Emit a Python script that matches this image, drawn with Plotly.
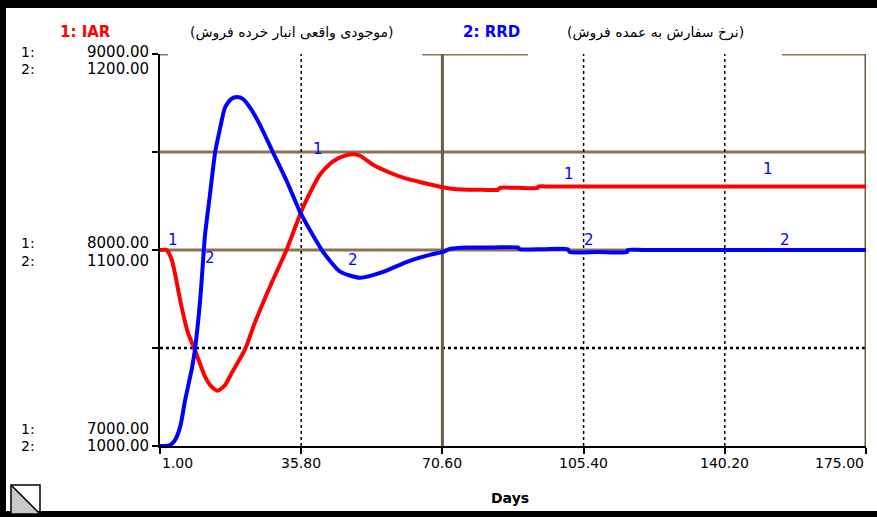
import plotly.graph_objects as go

# 1: IAR (موجودی واقعی انبار خرده فروش)
days_iar = [1, 2.6, 3.9, 6.3, 7.9, 9.6, 12.1, 13.6, 15.2, 17.0, 18.7, 21.9, 24.4, 28.5, 32.1,
            36.2, 40.4, 43.5, 46.6, 48.5, 50.3, 53.5, 57.7, 61.5, 65.8, 70.7, 74.0, 76.7,
            80.5, 84.3, 84.8, 89.0, 94.1, 94.2, 97.0, 110, 130, 150, 175]
iar = [8000, 8000, 7950, 7711, 7577, 7490, 7354, 7305, 7282, 7310, 7373, 7490, 7630, 7832, 7996,
       8215, 8384, 8450, 8481, 8488, 8481, 8435, 8394, 8365, 8343, 8320, 8310, 8307,
       8307, 8307, 8317, 8317, 8317, 8324, 8324, 8324, 8324, 8324, 8324]

# 2: RRD (نرخ سفارش به عمده فروش)
days_rrd = [1, 2.2, 3.5, 4.7, 6.0, 7.2, 8.9, 9.6, 10.9, 12.1, 13.3, 14.6, 15.8, 17.0, 18.5,
            20.0, 21.5, 23.2, 25.6, 28.8, 32.3, 35.5, 39.7, 41.2, 45.4, 50.3, 56.0, 61.9,
            67.5, 70.7, 72.5, 76.7, 83.0, 89.2, 89.7, 95.5, 101.5, 102.0, 109.0, 116.1, 116.3,
            120, 135, 155, 175]
rrd = [1000, 1000, 1000.5, 1003, 1010, 1023.5, 1040, 1049, 1074.5, 1107.7, 1128, 1150, 1162,
       1172.6, 1177, 1178, 1177, 1172.6, 1164, 1150, 1134.8, 1119.5, 1104, 1099, 1089, 1085.8,
       1088.8, 1094, 1097.5, 1099, 1100.6, 1101.3, 1101.3, 1101.3, 1100.4, 1100.4, 1100.4,
       1099, 1099, 1099, 1100, 1100, 1100, 1100, 1100]

x_ticks = [1, 35.8, 70.6, 105.4, 140.2, 175]
x_ticktext = ['1.00', '35.80', '70.60', '105.40', '140.20', '175.00']
iar_ticks = ['9000.00', '8000.00', '7000.00']
rrd_ticks = ['1200.00', '1100.00', '1000.00']

W, H = 877, 517
L, R, T, B = 160, 11, 54, 71
PW, PH = W - L - R, H - T - B


def px(x):
    return (x - L) / PW


def py(y):
    return (H - B - y) / PH


FONT = 'DejaVu Sans'
BROWN = '#8b7355'
DBROWN = '#6e5a45'

fig = go.Figure()
fig.add_trace(go.Scatter(x=days_iar, y=iar, mode='lines',
                         line=dict(color='#ff0000', width=4, shape='spline', smoothing=0.6),
                         yaxis='y', showlegend=False, hoverinfo='skip'))
fig.add_trace(go.Scatter(x=days_rrd, y=rrd, mode='lines',
                         line=dict(color='#0000ff', width=4, shape='spline', smoothing=0.6),
                         yaxis='y2', showlegend=False, hoverinfo='skip'))

shapes = []
# grid
for v in [8500, 8000]:
    shapes.append(dict(type='line', xref='x', yref='y', x0=1, x1=175, y0=v, y1=v,
                       line=dict(color=BROWN, width=3), layer='below'))
shapes.append(dict(type='line', xref='x', yref='y', x0=1, x1=175, y0=7500, y1=7500,
                   line=dict(color='black', width=2.5, dash='dot'), layer='below'))
for a, b in [(1, 2.97), (65.6, 91.7), (154.3, 175)]:
    shapes.append(dict(type='line', xref='x', yref='y', x0=a, x1=b, y0=9000, y1=9000,
                       line=dict(color=BROWN, width=3), layer='below'))
for v in [35.8, 105.4, 140.2]:
    shapes.append(dict(type='line', xref='x', yref='y', x0=v, x1=v, y0=7000, y1=9000,
                       line=dict(color='black', width=1.5, dash='dot'), layer='below'))
for v in [70.6, 175]:
    shapes.append(dict(type='line', xref='x', yref='y', x0=v, x1=v, y0=7000, y1=9000,
                       line=dict(color=DBROWN, width=3), layer='below'))

# outer frame (left, top, bottom)
for x0, y0, x1, y1 in [(0, 0, 6, H), (0, 0, W, 8), (0, 511, W, H)]:
    shapes.append(dict(type='rect', xref='paper', yref='paper', x0=px(x0), x1=px(x1),
                       y0=py(y1), y1=py(y0), fillcolor='black', line=dict(width=0)))

# corner icon
shapes.append(dict(type='path', xref='paper', yref='paper',
                   path=f'M {px(11)} {py(485)} L {px(11)} {py(514)} L {px(40)} {py(514)} Z',
                   fillcolor='#c8c8c8', line=dict(width=0)))
shapes.append(dict(type='rect', xref='paper', yref='paper', x0=px(11), x1=px(40),
                   y0=py(514), y1=py(485), line=dict(color='black', width=1.5)))
shapes.append(dict(type='line', xref='paper', yref='paper', x0=px(11), x1=px(40),
                   y0=py(485), y1=py(514), line=dict(color='black', width=1.5)))

ann = []
# headers
ann.append(dict(text='<b>1: IAR</b>', x=px(85), y=py(32), font=dict(color='#ff0000', size=15)))
ann.append(dict(text='(موجودی واقعی انبار خرده فروش)', x=px(292), y=py(32),
                font=dict(color='black', size=14)))
ann.append(dict(text='<b>2: RRD</b>', x=px(491), y=py(32), font=dict(color='#0000ff', size=15)))
ann.append(dict(text='(نرخ سفارش به عمده فروش)', x=px(655), y=py(32),
                font=dict(color='black', size=14)))

# y tick labels
rows = [(52, 69), (243, 261), (429, 446)]
for (y1, y2), t1, t2 in zip(rows, iar_ticks, rrd_ticks):
    ann.append(dict(text='1:', x=px(19), y=py(y1), xanchor='left', font=dict(size=14)))
    ann.append(dict(text='2:', x=px(19), y=py(y2), xanchor='left', font=dict(size=14)))
    ann.append(dict(text=t1, x=px(151), y=py(y1), xanchor='right', font=dict(size=15)))
    ann.append(dict(text=t2, x=px(151), y=py(y2), xanchor='right', font=dict(size=15)))

# x tick labels
for v, t in zip(x_ticks, x_ticktext):
    xa = 'left' if v == x_ticks[0] else ('right' if v == x_ticks[-1] else 'center')
    ann.append(dict(text=t, x=(v - 1) / 174, y=py(463), xanchor=xa, font=dict(size=14)))

ann.append(dict(text='<b>Days</b>', x=px(510), y=py(498), font=dict(size=14)))

# curve number labels
for t, x, y in [('1', 173, 240), ('1', 318, 149), ('1', 569, 174), ('1', 768, 169),
                ('2', 210, 258), ('2', 353, 260), ('2', 589, 240), ('2', 785, 240)]:
    ann.append(dict(text=t, x=px(x), y=py(y), font=dict(color='#0000ff', size=15)))

for a in ann:
    a.update(xref='paper', yref='paper', showarrow=False)
    a.setdefault('xanchor', 'center')
    a['yanchor'] = 'middle'
    a['font'].setdefault('color', 'black')
    a['font']['family'] = FONT

fig.update_layout(
    width=W, height=H,
    margin=dict(l=L, r=R, t=T, b=B, pad=0),
    paper_bgcolor='white', plot_bgcolor='white',
    xaxis=dict(range=[1, 175], tickvals=x_ticks, showticklabels=False, ticks='outside',
               ticklen=6, tickwidth=2, tickcolor='black', showgrid=False, zeroline=False,
               showline=True, linecolor='black', linewidth=2),
    yaxis=dict(range=[7000, 9000], tickvals=[7000, 7500, 8000, 8500, 9000],
               showticklabels=False, ticks='outside', ticklen=6, tickwidth=2,
               tickcolor='black', showgrid=False, zeroline=False, showline=True,
               linecolor='black', linewidth=2),
    yaxis2=dict(range=[1000, 1200], overlaying='y', visible=False),
    shapes=shapes,
    annotations=ann,
)

fig.write_html("out.html", config={'displayModeBar': False},
               post_script="document.body.style.margin='0';")
